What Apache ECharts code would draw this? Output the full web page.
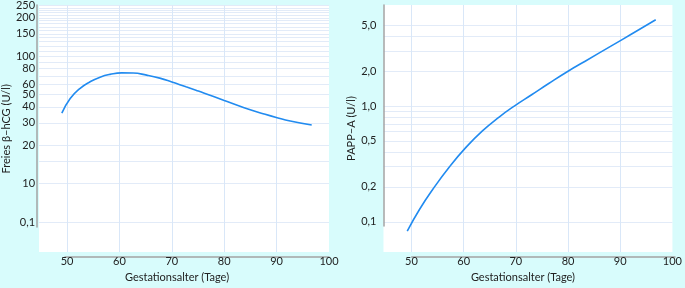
<!DOCTYPE html>
<html>
<head>
<meta charset="utf-8">
<script src="https://cdn.jsdelivr.net/npm/echarts@6/dist/echarts.min.js"></script>
<style>
html,body{margin:0;padding:0;background:#d8fcfc;}
#c{width:685px;height:288px;}
</style>
</head>
<body>
<div id="c"></div>
<script>
// ---- data ----
const xTickValues = [50, 60, 70, 80, 90, 100];
const xGridValues = [50, 60, 70, 80, 90];
const xTitle = 'Gestationsalter (Tage)';

const hcgTitle = 'Freies β–hCG (U/l)';
const hcgDays   = [49.0, 50.6, 52.5, 54.4, 56.3, 58.2, 60.4, 62.6, 65.2, 67.7, 70.0, 72.7, 74.6, 76.2, 80.0, 83.8, 87.6, 90.1, 92.6, 96.7];
const hcgValues = [35.7, 46.5, 56.0, 63.0, 68.5, 72.0, 74.0, 73.8, 71.0, 67.3, 62.8, 57.5, 54.1, 51.3, 44.9, 39.4, 35.2, 32.9, 31.0, 28.8];
const hcgTickValues = [5, 10, 20, 30, 40, 50, 60, 80, 100, 150, 200, 250];
const hcgTickLabels = ['0,1', '10', '20', '30', '40', '50', '60', '80', '100', '150', '200', '250'];
const hcgGridValues = [5, 10, 15, 20, 30, 40, 50, 60, 70, 80, 90, 100, 110, 120, 130, 140, 150, 160, 170, 180, 190, 200, 210, 220, 230, 240, 250];

const pappTitle = 'PAPP–A (U/l)';
const pappDays   = [49.2, 51.6, 54.1, 57.3, 60.4, 63.6, 66.8, 69.7, 73.1, 76.3, 80.0, 83.2, 88.3, 92.1, 96.8];
const pappValues = [0.0832, 0.129, 0.191, 0.299, 0.437, 0.610, 0.804, 1.0, 1.259, 1.567, 2.0, 2.43, 3.31, 4.17, 5.57];
const pappTickValues = [0.1, 0.2, 0.5, 1, 2, 5];
const pappTickLabels = ['0,1', '0,2', '0,5', '1,0', '2,0', '5,0'];
const pappGridValues = [0.1, 0.2, 0.3, 0.4, 0.5, 0.6, 0.7, 0.8, 0.9, 1, 2, 3, 4, 5];

// ---- styles ----
const FONT = 'Lato';
const TXT = '#222';
const AXIS = '#a3a3a3';
const GRIDH = '#e2ebf8';
const GRIDV = '#d9e7f8';
const LINE = '#218bf0';

function lookup(vals, labels) {
  return function (v) {
    for (let i = 0; i < vals.length; i++) {
      if (Math.abs(v - vals[i]) <= 1e-6 * Math.abs(vals[i])) return labels[i];
    }
    return '';
  };
}
function zip(a, b) { return a.map((x, i) => [x, b[i]]); }

const hidden = {show: false};

function dataX(gridIndex) {
  return {
    type: 'value', gridIndex: gridIndex, min: 44.65, max: 100,
    axisLine: hidden,
    axisTick: {show: false, customValues: xGridValues},
    axisLabel: {customValues: xTickValues, margin: 4, color: TXT, fontFamily: FONT, fontSize: 11},
    splitLine: {show: true, lineStyle: {color: GRIDV, width: 1}},
    name: xTitle, nameLocation: 'middle', nameGap: 19,
    nameTextStyle: {color: TXT, fontFamily: FONT, fontSize: 11, padding: [0, gridIndex === 0 ? 14 : 10, 0, 0]}
  };
}
function lineX(gridIndex) {
  return {
    type: 'value', gridIndex: gridIndex, min: 0, max: 1,
    axisLine: {show: true, lineStyle: {color: AXIS, width: 1.5}},
    axisTick: hidden, axisLabel: hidden, splitLine: hidden
  };
}
function blank(gridIndex) {
  return {type: 'value', gridIndex: gridIndex, show: false, min: 0, max: 1};
}
function lineY(gridIndex) {
  return {
    type: 'value', gridIndex: gridIndex, min: 0, max: 1,
    axisLine: {show: true, lineStyle: {color: AXIS, width: 1.5}},
    axisTick: hidden, axisLabel: hidden, splitLine: hidden
  };
}

const option = {
  backgroundColor: '#d8fcfc',
  animation: false,
  grid: [
    {left: 37, top: 5, width: 292, height: 252, show: true, backgroundColor: '#fff', borderWidth: 0},
    {left: 383.5, top: 5, width: 291.5, height: 252, show: true, backgroundColor: '#fff', borderWidth: 0},
    {left: 65, top: 5, width: 264, height: 252},
    {left: 411.7, top: 5, width: 263.3, height: 252},
    {left: 37, top: 5, width: 292, height: 222},
    {left: 383.5, top: 5, width: 291.5, height: 221}
  ],
  xAxis: [
    dataX(0), dataX(1), lineX(2), lineX(3), blank(4), blank(5)
  ],
  yAxis: [
    {
      type: 'log', gridIndex: 0, min: 2.9, max: 250,
      axisLine: hidden,
      axisTick: {show: false, customValues: hcgGridValues},
      axisLabel: {customValues: hcgTickValues, formatter: lookup(hcgTickValues, hcgTickLabels),
                  margin: 4, color: TXT, fontFamily: FONT, fontSize: 11},
      splitLine: {show: true, lineStyle: {color: GRIDH, width: 1}},
      name: hcgTitle, nameLocation: 'middle', nameGap: 22,
      nameTextStyle: {color: TXT, fontFamily: FONT, fontSize: 11}
    },
    {
      type: 'log', gridIndex: 1, min: 0.0547, max: 7.47,
      axisLine: hidden,
      axisTick: {show: false, customValues: pappGridValues},
      axisLabel: {customValues: pappTickValues, formatter: lookup(pappTickValues, pappTickLabels),
                  margin: 7, color: TXT, fontFamily: FONT, fontSize: 11},
      splitLine: {show: true, lineStyle: {color: GRIDH, width: 1}},
      name: pappTitle, nameLocation: 'middle', nameGap: 25,
      nameTextStyle: {color: TXT, fontFamily: FONT, fontSize: 11}
    },
    blank(2), blank(3), lineY(4), lineY(5)
  ],
  series: [
    {
      type: 'line', xAxisIndex: 0, yAxisIndex: 0, data: zip(hcgDays, hcgValues),
      smooth: true, showSymbol: false, lineStyle: {color: LINE, width: 1.6}, z: 5
    },
    {
      type: 'line', xAxisIndex: 1, yAxisIndex: 1, data: zip(pappDays, pappValues),
      smooth: true, showSymbol: false, lineStyle: {color: LINE, width: 1.6}, z: 5
    }
  ]
};

const chart = echarts.init(document.getElementById('c'), null, {renderer: 'canvas'});
chart.setOption(option);
</script>
</body>
</html>
